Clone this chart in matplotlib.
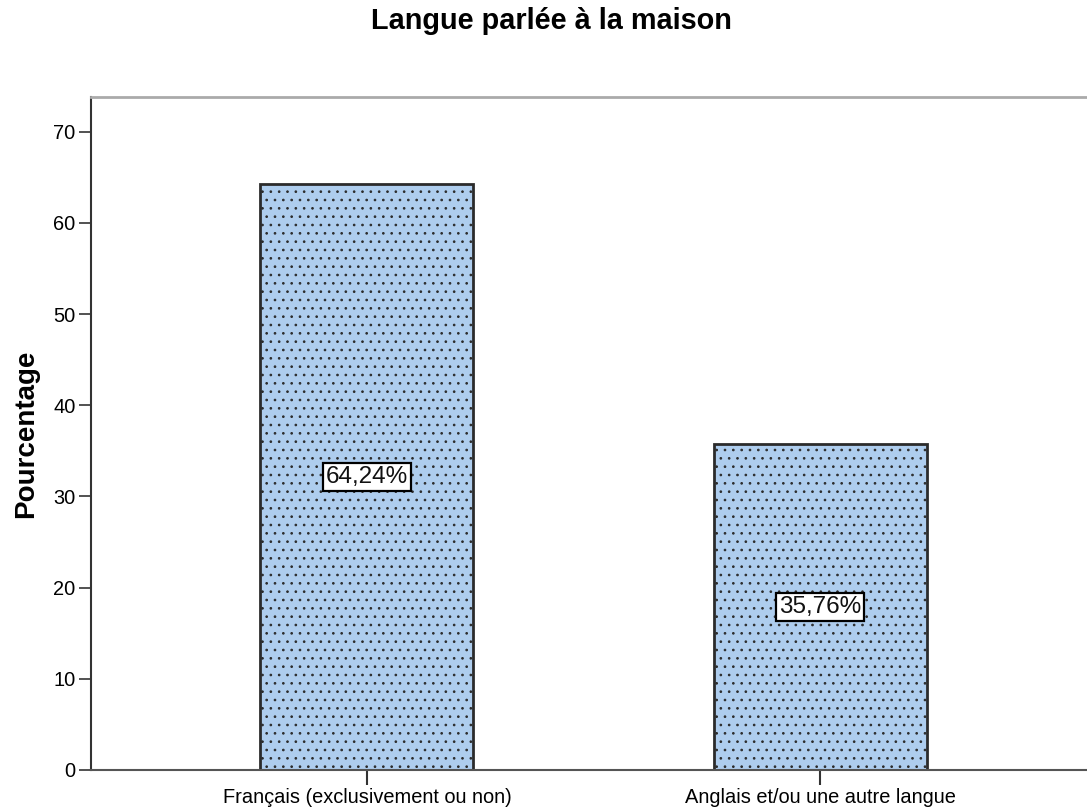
import matplotlib
matplotlib.use("Agg")
import matplotlib.pyplot as plt

plt.rcParams['font.family'] = ['Liberation Sans', 'DejaVu Sans']
plt.rcParams['hatch.color'] = '#4f6073'
plt.rcParams['hatch.linewidth'] = 0.7

# donnees
categories = ["Français (exclusivement ou non)", "Anglais et/ou une autre langue"]
pourcentages = [64.24, 35.76]
etiquettes = ["64,24%", "35,76%"]
yticks = [0, 10, 20, 30, 40, 50, 60, 70]

fig = plt.figure(figsize=(10.87, 8.11), dpi=100)
ax = fig.add_axes([0.0837, 0.0506, 0.9246, 0.8298])

x = list(range(len(categories)))
bars = ax.bar(x, pourcentages, width=0.47, color='#aecdee', edgecolor='#2b2b2b',
              linewidth=2, hatch='..')

for b, lab in zip(bars, etiquettes):
    ax.text(b.get_x() + b.get_width() / 2, b.get_height() / 2, lab,
            ha='center', va='center', fontsize=17.5, color='#111111',
            bbox=dict(boxstyle='square,pad=0.12', fc='white', ec='black', lw=1.6))

ax.set_xlim(-0.609, 1.609)
ax.set_ylim(0, 73.8)
ax.set_xticks(x)
ax.set_xticklabels(categories, fontsize=14.4)
ax.set_yticks(yticks)
ax.tick_params(axis='y', labelsize=14.4, length=9, width=1.2, color='#333333', pad=2)
ax.tick_params(axis='x', length=11, width=1.5, color='#333333', pad=2)

ax.spines['left'].set_color('#333333')
ax.spines['left'].set_linewidth(1.5)
ax.spines['bottom'].set_color('#555555')
ax.spines['bottom'].set_linewidth(1.5)
ax.spines['top'].set_color('#aaaaaa')
ax.spines['top'].set_linewidth(2)
ax.spines['right'].set_visible(False)

ax.set_ylabel("Pourcentage", fontsize=20, fontweight='bold', labelpad=10)
fig.text(0.507, 0.974, "Langue parlée à la maison", ha='center', va='center',
         fontsize=20.8, fontweight='bold')

fig.savefig("out.png", dpi=100)
